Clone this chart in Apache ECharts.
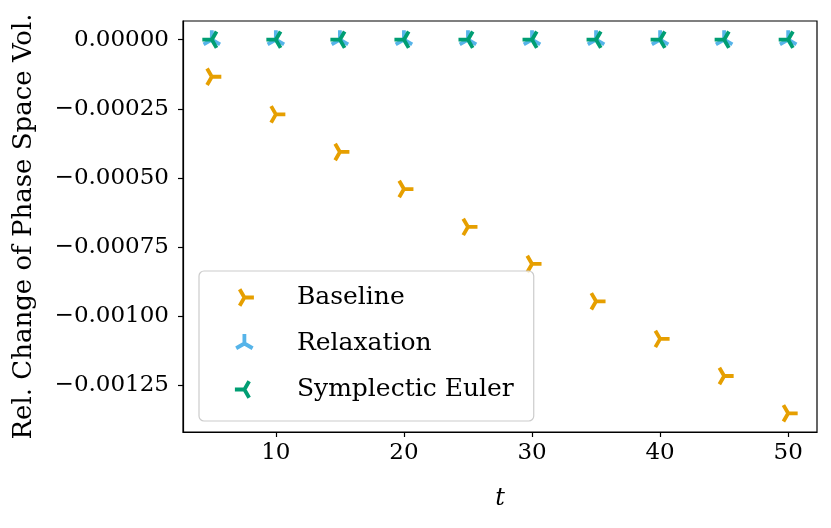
<!DOCTYPE html>
<html>
<head>
<meta charset="utf-8">
<script src="https://cdn.jsdelivr.net/npm/echarts@6.0.0/dist/echarts.min.js"></script>
<style>
  html, body { margin: 0; padding: 0; background: #fff; }
  #chart { width: 831px; height: 528px; }
</style>
</head>
<body>
<div id="chart"></div>
<script>
// time points
const tValues = [5, 10, 15, 20, 25, 30, 35, 40, 45, 50]
// relative change of phase space volume
const baseline = [-0.000134, -0.000270, -0.000406, -0.000540, -0.000677, -0.000811, -0.000946, -0.001082, -0.001216, -0.001351]
const relaxation = [0, 0, 0, 0, 0, 0, 0, 0, 0, 0]
const symplecticEuler = [0, 0, 0, 0, 0, 0, 0, 0, 0, 0]

const xTicks = [10, 20, 30, 40, 50]
const yTicks = [0, -0.00025, -0.0005, -0.00075, -0.001, -0.00125]

const seriesNames = ['Baseline', 'Relaxation', 'Symplectic Euler']
const seriesColors = ['#E69F00', '#56B4E9', '#009E73']

// matplotlib-like tri markers, bbox kept square so origin sits at the data point
const BOX = 'M-1,-1 L-1,-1 M1,1 L1,1 '
const triRight = 'path://' + BOX + 'M0,0 L1,0 M0,0 L-0.5,-0.866 M0,0 L-0.5,0.866'
const triUp = 'path://' + BOX + 'M0,0 L0,-1 M0,0 L-0.866,0.5 M0,0 L0.866,0.5'
const triLeft = 'path://' + BOX + 'M0,0 L-1,0 M0,0 L0.5,-0.866 M0,0 L0.5,0.866'
const markers = [triRight, triUp, triLeft]

const FONT = 'DejaVu Serif'
const LW = 3.8

const pairs = (ys) => tValues.map((t, i) => [t, ys[i]])
const allY = baseline.concat(relaxation, symplecticEuler)
const yLo = Math.min(...allY), yHi = Math.max(...allY)
const pad = (yHi - yLo) * 0.05

const fmtY = (v) => {
  if (Math.abs(v) < 1e-12) return '0.00000'
  return (v < 0 ? '\u2212' : '') + Math.abs(v).toFixed(5)
}

const makeSeries = (name, ys, i) => ({
  name,
  type: 'scatter',
  data: pairs(ys),
  symbol: markers[i],
  symbolSize: 19,
  itemStyle: {
    color: 'transparent',
    borderColor: seriesColors[i],
    borderWidth: LW,
    borderCap: 'butt',
    opacity: 1
  },
  emphasis: { disabled: true },
  z: 2 + i
})

const chart = echarts.init(document.getElementById('chart'), null, { renderer: 'canvas' })

chart.setOption({
  animation: false,
  backgroundColor: '#fff',
  grid: {
    left: 183, top: 21, right: 14, bottom: 96,
    show: true, borderColor: '#000', borderWidth: 1.2, backgroundColor: 'transparent'
  },
  xAxis: {
    type: 'value',
    min: 2.75,
    max: 52.25,
    name: 't',
    nameLocation: 'middle',
    nameGap: 55,
    nameTextStyle: { fontFamily: FONT, fontSize: 24, fontStyle: 'italic', color: '#000' },
    axisLine: { show: true, onZero: false, lineStyle: { color: '#000', width: 1.2 } },
    axisTick: { show: true, length: 5, lineStyle: { color: '#000', width: 1.2 }, customValues: xTicks },
    axisLabel: { fontFamily: FONT, fontSize: 23, color: '#000', margin: 10, customValues: xTicks },
    splitLine: { show: false }
  },
  yAxis: {
    type: 'value',
    min: yLo - pad,
    max: yHi + pad,
    name: 'Rel. Change of Phase Space Vol.',
    nameLocation: 'middle',
    nameGap: 146,
    nameTextStyle: { fontFamily: FONT, fontSize: 26, color: '#000' },
    axisLine: { show: true, onZero: false, lineStyle: { color: '#000', width: 1.2 } },
    axisTick: { show: true, length: 5, lineStyle: { color: '#000', width: 1.2 }, customValues: yTicks },
    axisLabel: { fontFamily: FONT, fontSize: 23, color: '#000', margin: 14, customValues: yTicks, formatter: fmtY },
    splitLine: { show: false }
  },
  legend: {
    orient: 'vertical',
    left: 199,
    top: 271,
    padding: [14, 20, 19, 34],
    itemWidth: 19,
    itemHeight: 19,
    itemGap: 21,
    backgroundColor: 'rgba(255,255,255,0.8)',
    borderColor: '#cccccc',
    borderWidth: 1.2,
    borderRadius: 5,
    selectedMode: false,
    itemStyle: { borderWidth: LW },
    textStyle: { fontFamily: FONT, fontSize: 25, lineHeight: 24, color: '#000', padding: [0, 0, 0, 38] },
    data: seriesNames.map((n, i) => ({ name: n, icon: markers[i] }))
  },
  series: [
    makeSeries(seriesNames[0], baseline, 0),
    makeSeries(seriesNames[1], relaxation, 1),
    makeSeries(seriesNames[2], symplecticEuler, 2)
  ]
})
</script>
</body>
</html>
